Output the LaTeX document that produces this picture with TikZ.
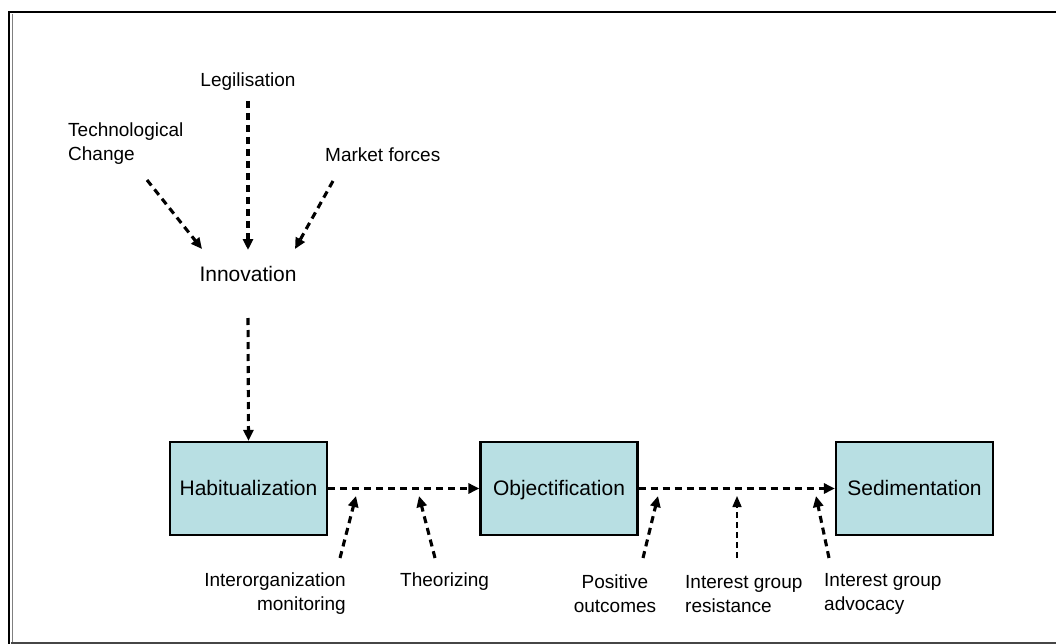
\documentclass[tikz,border=0pt]{standalone}
\usepackage{fontspec}
\setmainfont{Liberation Sans}
\usetikzlibrary{arrows.meta}
\definecolor{boxfill}{RGB}{184,223,227}
\definecolor{framegray}{RGB}{70,70,70}
\tikzset{
  stagebox/.style={draw=black, line width=2.2pt, fill=boxfill, minimum width=157pt, minimum height=93pt, inner sep=0pt, text height=17pt, text depth=2.5pt, font=\fontsize{21}{25}\selectfont},
  lbl/.style={inner sep=0pt, font=\fontsize{19}{24}\selectfont},
  biglbl/.style={inner sep=0pt, font=\fontsize{21}{25}\selectfont},
  dasharrow/.style={line width=3.1pt, dash pattern=on 7pt off 5pt, -{Triangle[length=11pt,width=10pt]}},
  thinarrow/.style={line width=1.6pt, dash pattern=on 6pt off 4pt, -{Triangle[length=11pt,width=9pt]}}
}
\begin{document}
\begin{tikzpicture}[x=1pt,y=-1pt]
\useasboundingbox (0,0) rectangle (1056,644);
% frame
\draw[line width=2.8pt] (9,644) -- (9,12) -- (1056,12);
\draw[line width=1pt, gray] (12,14) -- (12,642);
\draw[line width=2pt, framegray] (11,642.5) -- (1056,642.5);

% top labels
\node[lbl] (leg) at (248,82) {Legilisation};
\node[lbl, anchor=west, align=left] (tech) at (68,144) {Technological\\Change};
\node[lbl, anchor=west] (market) at (325,155) {Market forces};
\node[biglbl] (innov) at (248,274) {Innovation};

% boxes
\node[stagebox] (hab) at (248.5,488.5) {Habitualization};
\node[stagebox] (obj) at (559,488.5) {Objectification};
\node[stagebox] (sed) at (914.5,488.5) {Sedimentation};

% bottom labels
\node[lbl, anchor=east, align=right] (inter) at (346,594) {Interorganization\\monitoring};
\node[lbl, anchor=west] (theo) at (400,582) {Theorizing};
\node[lbl, align=center] (pos) at (615,594) {Positive\\outcomes};
\node[lbl, anchor=west, align=left] (res) at (685,594) {Interest group\\resistance};
\node[lbl, anchor=west, align=left] (adv) at (824,594) {Interest group\\advocacy};

% coordinates
\coordinate (legS) at (248,101);
\coordinate (techS) at (147,180);
\coordinate (marketS) at (333,181);
\coordinate (innL) at (202,249);
\coordinate (innM) at (248,250);
\coordinate (innR) at (295,249);
\coordinate (innS) at (248,318);
\coordinate (interS) at (340,558);
\coordinate (interE) at (356,496);
\coordinate (theoS) at (435,558);
\coordinate (theoE) at (419,496);
\coordinate (posS) at (643,558);
\coordinate (posE) at (658,496);
\coordinate (resS) at (737,558);
\coordinate (resE) at (737,496);
\coordinate (advS) at (829,558);
\coordinate (advE) at (816,496);

% arrows
\draw[dasharrow] (techS) -- (innL);
\draw[dasharrow] (legS) -- (innM);
\draw[dasharrow] (marketS) -- (innR);
\draw[dasharrow] (innS) -- (hab.north);
\draw[dasharrow] (hab.east) -- (obj.west);
\draw[dasharrow] (obj.east) -- (sed.west);
\draw[dasharrow] (interS) -- (interE);
\draw[dasharrow] (theoS) -- (theoE);
\draw[dasharrow] (posS) -- (posE);
\draw[thinarrow] (resS) -- (resE);
\draw[dasharrow] (advS) -- (advE);
\end{tikzpicture}
\end{document}
